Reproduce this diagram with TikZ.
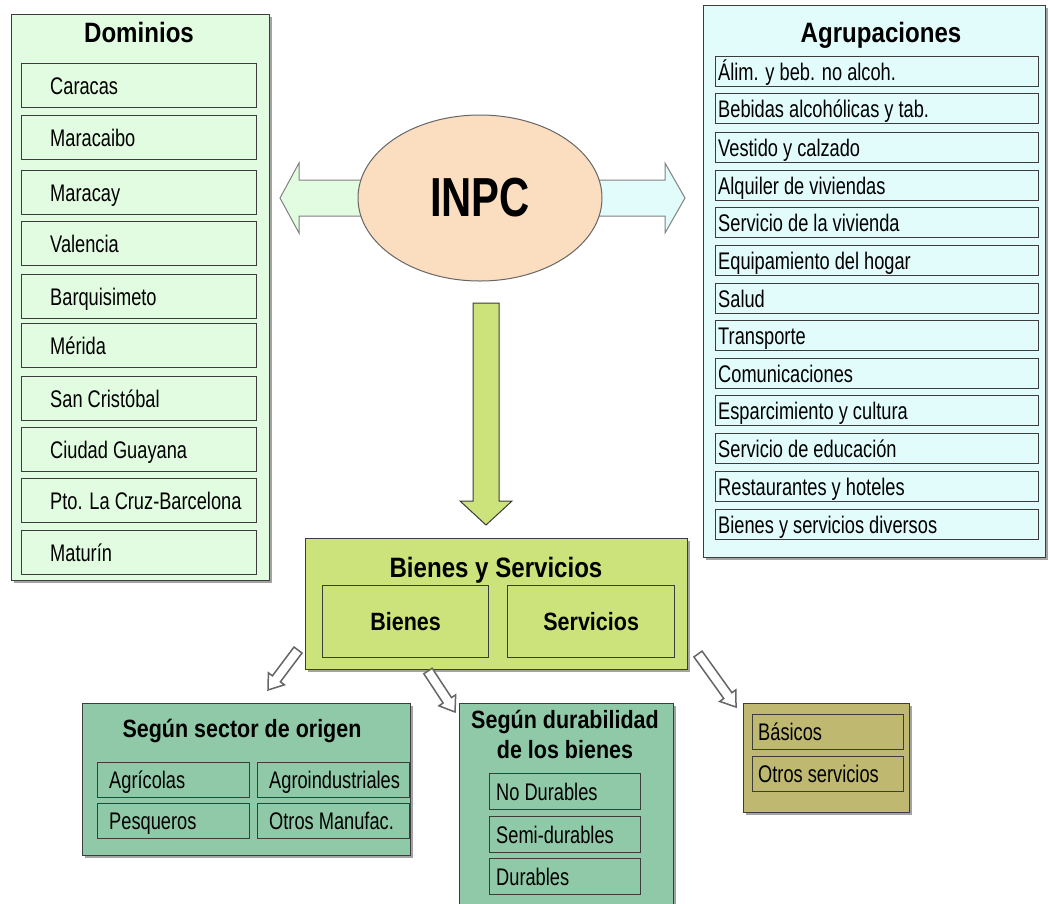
\documentclass[tikz,border=0pt]{standalone}
\usepackage{fontspec}
\setmainfont{Liberation Sans}
\newfontfamily\itemfont{Liberation Sans}[FakeStretch=0.76]
\newfontfamily\headfont{Liberation Sans}[FakeStretch=0.86]
\usetikzlibrary{calc,positioning,shapes.geometric,backgrounds,shadows}

\definecolor{domfill}{RGB}{226,252,226}
\definecolor{grpfill}{RGB}{226,252,252}
\definecolor{inpcfill}{RGB}{251,221,192}
\definecolor{bysfill}{RGB}{204,226,122}
\definecolor{sgnfill}{RGB}{143,201,168}
\definecolor{basfill}{RGB}{190,184,112}
\definecolor{edge}{RGB}{60,60,60}

% block arrow: [style]{from}{to}{shaft half width}{head half width}{head length}
\newcommand{\blockarrow}[6][]{%
  \coordinate (hd) at ($(#3)!#6!(#2)$);
  \draw[#1] ($(#2)!#4!90:(#3)$) -- ($(hd)!#4!90:(#3)$) -- ($(hd)!#5!90:(#3)$) -- (#3)
    -- ($(hd)!#5!-90:(#3)$) -- ($(hd)!#4!-90:(#3)$) -- ($(#2)!#4!-90:(#3)$) -- cycle;
}

\begin{document}
\begin{tikzpicture}[x=1pt,y=-1pt,
    panel/.style={draw=edge, line width=1.4pt, anchor=north west, inner sep=0pt,
      drop shadow={shadow xshift=2pt, shadow yshift=-2pt, fill=black!60, opacity=0.6}},
    box/.style={draw=edge, line width=1.3pt, anchor=north west, inner sep=0pt},
    itemtxt/.style={anchor=west, inner sep=0pt, text height=17pt, text depth=0pt,
      font=\itemfont\fontsize{24}{28}\selectfont},
    head/.style={font=\headfont\bfseries\fontsize{28}{32}\selectfont},
    subhead/.style={font=\headfont\bfseries\fontsize{25}{30}\selectfont, align=center},
    dom/.style={box, fill=domfill, minimum width=235pt, minimum height=44pt,
      label={[itemtxt, xshift=29pt]west:#1}},
    grp/.style={box, fill=grpfill, minimum width=323pt, minimum height=30pt,
      label={[itemtxt, xshift=3pt]west:#1}},
    sec/.style={box, fill=sgnfill, minimum width=152pt, minimum height=35pt,
      label={[itemtxt, xshift=12pt]west:#1}},
    dur/.style={box, fill=sgnfill, minimum width=151pt, minimum height=36pt,
      label={[itemtxt, xshift=7pt]west:#1}},
    bas/.style={box, fill=basfill, minimum width=151pt, minimum height=35pt,
      label={[itemtxt, xshift=6pt]west:#1}},
    fatarrow/.style={draw=black!50, line width=1pt},
    thinarrow/.style={draw=black!60, line width=1.5pt, fill=white}]
  \useasboundingbox (0,0) rectangle (1050,903);
  \clip (0,0) rectangle (1050,903);

  % Dominios
  \node[panel, fill=domfill, minimum width=258pt, minimum height=566pt] (dominios) at (11,14) {};
  \node[head, anchor=base] (domtitle) at (139,42) {Dominios};
  \node[dom=Caracas] (caracas) at (21,63) {};
  \node[dom=Maracaibo] (maracaibo) at (21,115) {};
  \node[dom=Maracay] (maracay) at (21,170) {};
  \node[dom=Valencia] (valencia) at (21,221) {};
  \node[dom=Barquisimeto] (barquisimeto) at (21,274) {};
  \node[dom=Mérida] (merida) at (21,323) {};
  \node[dom=San Cristóbal] (sancristobal) at (21,376) {};
  \node[dom=Ciudad Guayana] (guayana) at (21,427) {};
  \node[dom=Pto. La Cruz-Barcelona] (barcelona) at (21,478) {};
  \node[dom=Maturín] (maturin) at (21,530) {};

  % Agrupaciones
  \node[panel, fill=grpfill, minimum width=342pt, minimum height=552pt] (agrupaciones) at (703,5) {};
  \node[head, anchor=base] (grptitle) at (881,42) {Agrupaciones};
  \node[grp=Álim. y beb. no alcoh.] (alim) at (715,56) {};
  \node[grp=Bebidas alcohólicas y tab.] (bebidas) at (715,93) {};
  \node[grp=Vestido y calzado] (vestido) at (715,132) {};
  \node[grp=Alquiler de viviendas] (alquiler) at (715,170) {};
  \node[grp=Servicio de la vivienda] (servviv) at (715,207) {};
  \node[grp=Equipamiento del hogar] (equip) at (715,245) {};
  \node[grp=Salud] (salud) at (715,283) {};
  \node[grp=Transporte] (transporte) at (715,320) {};
  \node[grp=Comunicaciones] (comunic) at (715,358) {};
  \node[grp=Esparcimiento y cultura] (esparc) at (715,395) {};
  \node[grp=Servicio de educación] (educ) at (715,433) {};
  \node[grp=Restaurantes y hoteles] (restaur) at (715,471) {};
  \node[grp=Bienes y servicios diversos] (diversos) at (715,509) {};

  % INPC
  \node[ellipse, draw=black!60, line width=1pt, fill=inpcfill, minimum width=244pt,
    minimum height=166pt, inner sep=0pt, font=\itemfont\bfseries\fontsize{55}{60}\selectfont] (inpc) at (480,198) {INPC};

  % Bienes y Servicios
  \node[panel, fill=bysfill, minimum width=382pt, minimum height=131pt] (bys) at (305,538) {};
  \node[head, anchor=base] (bystitle) at (496,577) {Bienes y Servicios};
  \node[box, fill=bysfill, subhead, minimum width=166pt, minimum height=72pt] (bienes) at (322,585) {Bienes};
  \node[box, fill=bysfill, subhead, minimum width=167pt, minimum height=72pt] (servicios) at (507,585) {Servicios};

  % Segun sector de origen
  \node[panel, fill=sgnfill, minimum width=328pt, minimum height=152pt] (sector) at (82,703) {};
  \node[subhead, anchor=base] (sectitle) at (242,737) {Según sector de origen};
  \node[sec=Agrícolas] (agricolas) at (97,762) {};
  \node[sec=Pesqueros] (pesqueros) at (97,803) {};
  \node[sec=Agroindustriales] (agroind) at (257,762) {};
  \node[sec=Otros Manufac.] (manufac) at (257,803) {};

  % Segun durabilidad
  \node[panel, fill=sgnfill, minimum width=214pt, minimum height=206pt] (durab) at (459,703) {};
  \node[subhead, inner sep=0pt] (durtitle) at (565,734) {Según durabilidad\\de los bienes};
  \node[dur=No Durables] (nodur) at (489,773) {};
  \node[dur=Semi-durables] (semidur) at (489,816) {};
  \node[dur=Durables] (durables) at (489,858) {};

  % Servicios
  \node[panel, fill=basfill, minimum width=166pt, minimum height=109pt] (servgrp) at (743,703) {};
  \node[bas=Básicos] (basicos) at (752,714) {};
  \node[bas=Otros servicios] (otrosserv) at (752,756) {};

  % big arrows, under the ellipse
  \begin{scope}[on background layer]
    \fill[white] (0,0) rectangle (1050,903);
    \coordinate (ltail) at ([xshift=8pt]inpc.west);
    \coordinate (ltip) at (280,198);
    \coordinate (rtail) at ([xshift=-8pt]inpc.east);
    \coordinate (rtip) at (685,198);
    \coordinate (dtail) at (486,303);
    \coordinate (dtip) at (486,525);
    \blockarrow[fatarrow, fill=domfill]{ltail}{ltip}{18pt}{35pt}{19pt}
    \blockarrow[fatarrow, fill=grpfill]{rtail}{rtip}{18pt}{35pt}{20pt}
    \blockarrow[fatarrow, draw=edge, fill=bysfill]{dtail}{dtip}{13pt}{26pt}{24pt}
  \end{scope}

  % hollow arrows
  \coordinate (a1tail) at (298,650);
  \coordinate (a1tip) at (268,690);
  \coordinate (a2tail) at (428,671);
  \coordinate (a2tip) at (455,712);
  \coordinate (a3tail) at (698,654);
  \coordinate (a3tip) at (736,707);
  \blockarrow[thinarrow]{a1tail}{a1tip}{5pt}{10pt}{14pt}
  \blockarrow[thinarrow]{a2tail}{a2tip}{5pt}{10pt}{14pt}
  \blockarrow[thinarrow]{a3tail}{a3tip}{5pt}{10pt}{14pt}
\end{tikzpicture}
\end{document}
